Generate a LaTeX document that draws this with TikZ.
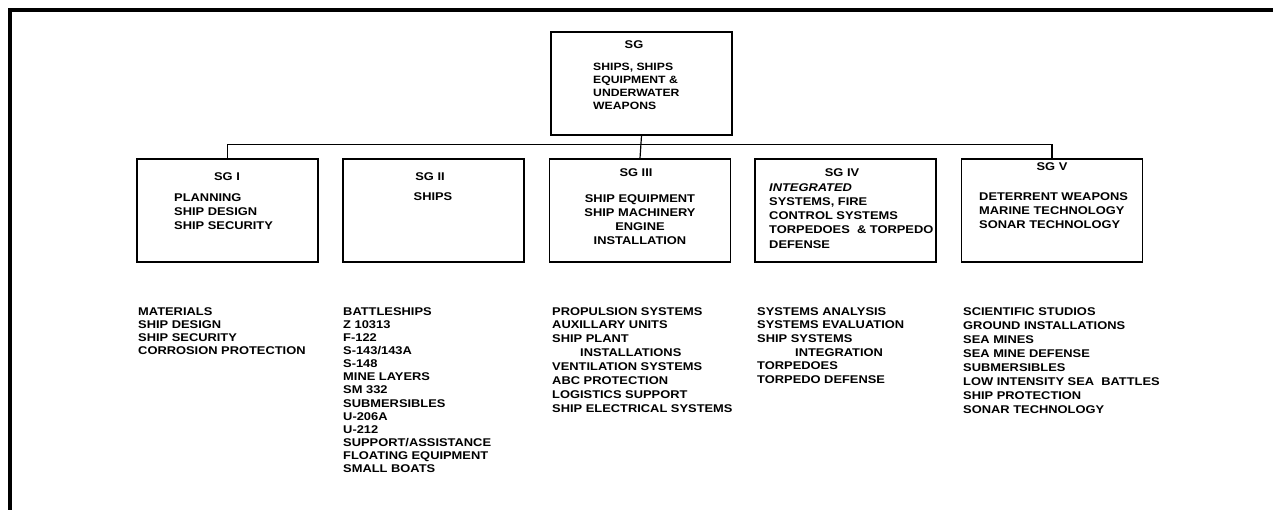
\documentclass[tikz,border=0pt]{standalone}
\usepackage{fontspec}
\setmainfont{Liberation Sans}[FakeStretch=1.15]
\usetikzlibrary{positioning}

\tikzset{
  unit/.style={draw, line width=1.4pt, minimum width=181pt, minimum height=103pt, inner sep=0pt},
  unitname/.style={inner sep=0pt, font=\bfseries\fontsize{11.2}{14}\selectfont},
  duties/.style={inner sep=0pt, anchor=north west, align=left, font=\bfseries\fontsize{11.2}{#1}\selectfont},
  duties/.default=14,
  tasklist/.style={inner sep=0pt, anchor=north west, align=left, font=\bfseries\fontsize{11.2}{#1}\selectfont},
  tasklist/.default=13.9
}

\begin{document}
\begin{tikzpicture}[x=1pt, y=-1pt]
  \useasboundingbox (0,0) rectangle (1273,510);
  % Cadre
  \draw[line width=4pt] (10,510) -- (10,10) -- (1273,10);

  % Groupe principal
  \node[unit] (sg) at (641.5,83.5) {};
  \node[unitname] (sgname) at (634,45) {SG};
  \node[duties=13, font=\bfseries\fontsize{10.6}{13}\selectfont] (sgtext) at (593,63) {SHIPS, SHIPS\\EQUIPMENT \&\\UNDERWATER\\WEAPONS};

  % Sous-groupes
  \node[unit] (sg1) at (227.5,210.5) {};
  \node[unit] (sg2) at (433.5,210.5) {};
  \node[unit] (sg3) at (640,210.5) {};
  \node[unit] (sg4) at (845.5,210.5) {};
  \node[unit] (sg5) at (1052,210.5) {};

  \node[unitname] (sg1name) at (227,177) {SG I};
  \node[unitname] (sg2name) at (430,177) {SG II};
  \node[unitname] (sg3name) at (636,173) {SG III};
  \node[unitname] (sg4name) at (842,173) {SG IV};
  \node[unitname] (sg5name) at (1052,167) {SG V};

  \node[duties] (sg1text) at (174,193) {PLANNING\\SHIP DESIGN\\SHIP SECURITY};
  \node[unitname] (sg2text) at (433,197) {SHIPS};
  \node[duties, anchor=north, align=center] (sg3text) at (640,194) {SHIP EQUIPMENT\\SHIP MACHINERY\\ENGINE\\INSTALLATION};
  \node[duties=14.3] (sg4text) at (769,183) {\itshape INTEGRATED\\SYSTEMS, FIRE\\CONTROL SYSTEMS\\TORPEDOES \ \& TORPEDO\\DEFENSE};
  \node[duties] (sg5text) at (979,192) {DETERRENT WEAPONS\\MARINE TECHNOLOGY\\SONAR TECHNOLOGY};

  % Liaisons
  \draw[line width=1.2pt] (sg.south) -- (sg3.north);
  \draw[line width=1.2pt] (sg1.north) -- ++(0,-14) -| (sg5.north);

  % Domaines de travail
  \node[tasklist=13.3] (tasks1) at (138,307) {MATERIALS\\SHIP DESIGN\\SHIP SECURITY\\CORROSION PROTECTION};
  \node[tasklist=13.15] (tasks2) at (343,307) {BATTLESHIPS\\Z 10313\\F-122\\S-143/143A\\S-148\\MINE LAYERS\\SM 332\\SUBMERSIBLES\\U-206A\\U-212\\SUPPORT/ASSISTANCE\\FLOATING EQUIPMENT\\SMALL BOATS};
  \node[tasklist] (tasks3) at (552,307) {PROPULSION SYSTEMS\\AUXILLARY UNITS\\SHIP PLANT\\\hspace*{28pt}INSTALLATIONS\\VENTILATION SYSTEMS\\ABC PROTECTION\\LOGISTICS SUPPORT\\SHIP ELECTRICAL SYSTEMS};
  \node[tasklist=13.7] (tasks4) at (757,307) {SYSTEMS ANALYSIS\\SYSTEMS EVALUATION\\SHIP SYSTEMS\\\hspace*{38pt}INTEGRATION\\TORPEDOES\\TORPEDO DEFENSE};
  \node[tasklist=14] (tasks5) at (963,307) {SCIENTIFIC STUDIOS\\GROUND INSTALLATIONS\\SEA MINES\\SEA MINE DEFENSE\\SUBMERSIBLES\\LOW INTENSITY SEA \ BATTLES\\SHIP PROTECTION\\SONAR TECHNOLOGY};
\end{tikzpicture}
\end{document}
